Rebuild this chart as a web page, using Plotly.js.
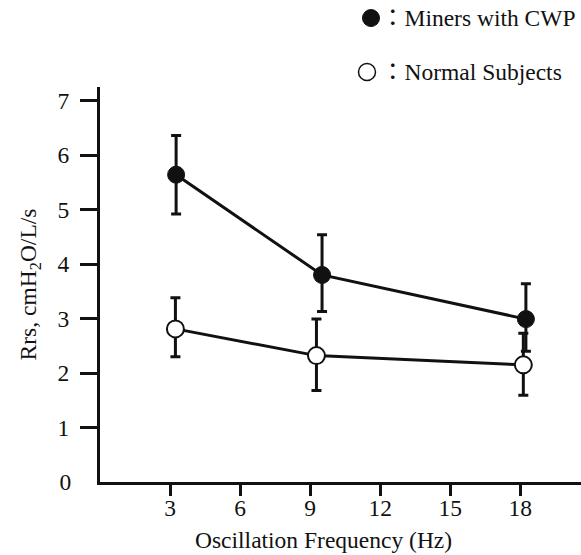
<!DOCTYPE html>
<html>
<head>
<meta charset="utf-8">
<script src="https://cdn.plot.ly/plotly-3.0.1.min.js"></script>
<style>html,body{margin:0;padding:0;background:#fff;}#chart{width:581px;height:555px;}</style>
</head>
<body>
<div id="chart"></div>
<script>
// Data
const minersFreq = [3.26, 9.51, 18.24];
const minersRrs = [5.64, 3.80, 2.99];
const minersErrPlus = [0.72, 0.74, 0.65];
const minersErrMinus = [0.72, 0.67, 0.59];

const normalFreq = [3.23, 9.27, 18.13];
const normalRrs = [2.81, 2.32, 2.15];
const normalErrPlus = [0.57, 0.67, 0.58];
const normalErrMinus = [0.51, 0.64, 0.56];

const xTickVals = [3, 6, 9, 12, 15, 18];
const xTickText = ['3', '6', '9', '12', '15', '18'];
const yTickVals = [1, 2, 3, 4, 5, 6, 7];
const yTickText = ['1', '2', '3', '4', '5', '6', '7'];
const yZeroVals = [0];
const yZeroText = ['0'];

const legendMiners = '\uFF1AMiners with CWP';
const legendNormal = '\uFF1ANormal Subjects';
const xTitle = 'Oscillation Frequency (Hz)';
const yTitle = 'Rrs, cmH<sub>2</sub>O/L/s';

const FONT = 'Liberation Serif, Times New Roman, Noto Sans CJK JP, serif';
const FS = 23.5;

const traces = [
  {
    x: minersFreq, y: minersRrs, type: 'scatter', mode: 'lines+markers',
    line: {color: '#111', width: 3},
    marker: {color: '#111', size: 17, line: {color: '#111', width: 1}},
    error_y: {type: 'data', symmetric: false, array: minersErrPlus, arrayminus: minersErrMinus,
      color: '#111', thickness: 3, width: 5},
    showlegend: false, cliponaxis: false
  },
  {
    x: normalFreq, y: normalRrs, type: 'scatter', mode: 'lines+markers',
    yaxis: 'y2',
    line: {color: '#111', width: 3},
    marker: {color: '#fff', size: 17, line: {color: '#111', width: 2}},
    error_y: {type: 'data', symmetric: false, array: normalErrPlus, arrayminus: normalErrMinus,
      color: '#111', thickness: 3, width: 5},
    showlegend: false, cliponaxis: false
  }
];

const yRange = [0, 7.25];
const H = 395.3, W = 481;

const layout = {
  width: 581, height: 555,
  margin: {l: 100, r: 0, t: 87, b: 73},
  paper_bgcolor: '#fff', plot_bgcolor: '#fff',
  font: {family: FONT, size: FS, color: '#111'},
  showlegend: false,
  xaxis: {
    range: [0, 20.6], showgrid: false, zeroline: false,
    showline: true, linecolor: '#111', linewidth: 3,
    ticks: 'outside', ticklen: 11, tickwidth: 3, tickcolor: '#111',
    tickvals: xTickVals, ticktext: xTickText,
    tickfont: {family: FONT, size: FS, color: '#111'},
    ticklabelstandoff: -8,
    automargin: false
  },
  yaxis: {
    range: yRange, showgrid: false, zeroline: false,
    showline: true, linecolor: '#111', linewidth: 3,
    ticks: 'outside', ticklen: 17, tickwidth: 3, tickcolor: '#111',
    tickvals: yTickVals, ticktext: yTickText,
    tickfont: {family: FONT, size: FS, color: '#111'},
    ticklabelstandoff: 6,
    title: {text: yTitle, font: {family: FONT, size: FS, color: '#111'}, standoff: 15},
    automargin: false
  },
  yaxis2: {
    overlaying: 'y', side: 'left', range: yRange,
    showgrid: false, zeroline: false, showline: false,
    ticks: 'outside', ticklen: 17, tickwidth: 3, tickcolor: 'rgba(0,0,0,0)',
    tickvals: yZeroVals, ticktext: yZeroText,
    tickfont: {family: FONT, size: FS, color: '#111'},
    ticklabelstandoff: 6,
    automargin: false
  },
  shapes: [
    {type: 'circle', xref: 'paper', yref: 'paper', xsizemode: 'pixel', ysizemode: 'pixel',
     xanchor: (371 - 100) / W, yanchor: (482.3 - 18) / H,
     x0: -8.5, x1: 8.5, y0: -8.5, y1: 8.5,
     fillcolor: '#111', line: {color: '#111', width: 1}},
    {type: 'circle', xref: 'paper', yref: 'paper', xsizemode: 'pixel', ysizemode: 'pixel',
     xanchor: (367 - 100) / W, yanchor: (482.3 - 72) / H,
     x0: -8.5, x1: 8.5, y0: -8.5, y1: 8.5,
     fillcolor: '#fff', line: {color: '#111', width: 1.5}}
  ],
  annotations: [
    {xref: 'paper', yref: 'paper', x: (379 - 100) / W, y: (482.3 - 18) / H,
     xanchor: 'left', yanchor: 'middle', showarrow: false, text: legendMiners,
     font: {family: FONT, size: FS, color: '#111'}},
    {xref: 'paper', yref: 'paper', x: (379 - 100) / W, y: (482.3 - 72) / H,
     xanchor: 'left', yanchor: 'middle', showarrow: false, text: legendNormal,
     font: {family: FONT, size: FS, color: '#111'}},
    {xref: 'paper', yref: 'paper', x: (323 - 100) / W, y: (482.3 - 540) / H,
     xanchor: 'center', yanchor: 'middle', showarrow: false, text: xTitle,
     font: {family: FONT, size: FS, color: '#111'}}
  ]
};

Plotly.newPlot('chart', traces, layout, {displayModeBar: false, staticPlot: true});
</script>
</body>
</html>
